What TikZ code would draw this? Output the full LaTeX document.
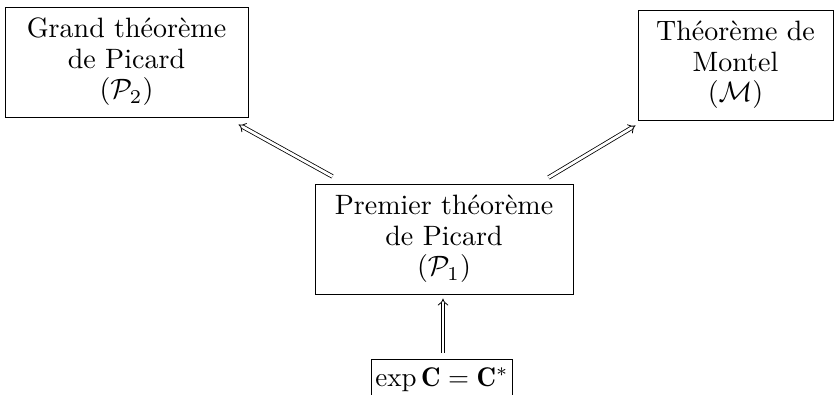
\documentclass[tikz,border=0pt]{standalone}
\usepackage{fontspec}
\usepackage{graphicx}
\usetikzlibrary{arrows.meta}
\newcommand{\bigtxt}[1]{\scalebox{2.8}{\fontsize{10}{11}\selectfont\begin{tabular}{@{}c@{}}#1\end{tabular}}}
\tikzset{
  thm/.style={draw, line width=1pt, align=center, inner sep=0pt},
  impl/.style={double, double distance=2.8pt, line width=0.8pt, -{Implies}},
}
\begin{document}
\begin{tikzpicture}[x=1pt,y=1pt]
\clip (0,0) rectangle (837,-394);
\node[thm, minimum width=243, minimum height=110] (P2) at (126.5,-62) {\bigtxt{Grand théorème\\de Picard\\$(\mathcal{P}_2)$}};
\node[thm, minimum width=195, minimum height=110] (M) at (735.5,-65) {\bigtxt{Théorème de\\Montel\\$(\mathcal{M})$}};
\node[thm, minimum width=258, minimum height=110] (P1) at (444,-239) {\bigtxt{Premier théorème\\de Picard\\$(\mathcal{P}_1)$}};
\node[thm, anchor=north, minimum width=140, inner xsep=4pt, inner ysep=0pt] (B) at (442,-359) {\raisebox{0pt}[27pt][20pt]{\scalebox{2.7}{\fontsize{10}{12}\selectfont$\exp\mathbf{C}=\mathbf{C}^{*}$}}};
\draw[impl] ([shift={(18,7)}]P1.north west) -- ([shift={(-10,-7)}]P2.south east);
\draw[impl] ([shift={(-25,6)}]P1.north east) -- ([shift={(-2,-5)}]M.south west);
\draw[impl] ([shift={(1,6)}]B.north) -- ([shift={(1,-4)}]B.north |- P1.south);
\end{tikzpicture}
\end{document}
